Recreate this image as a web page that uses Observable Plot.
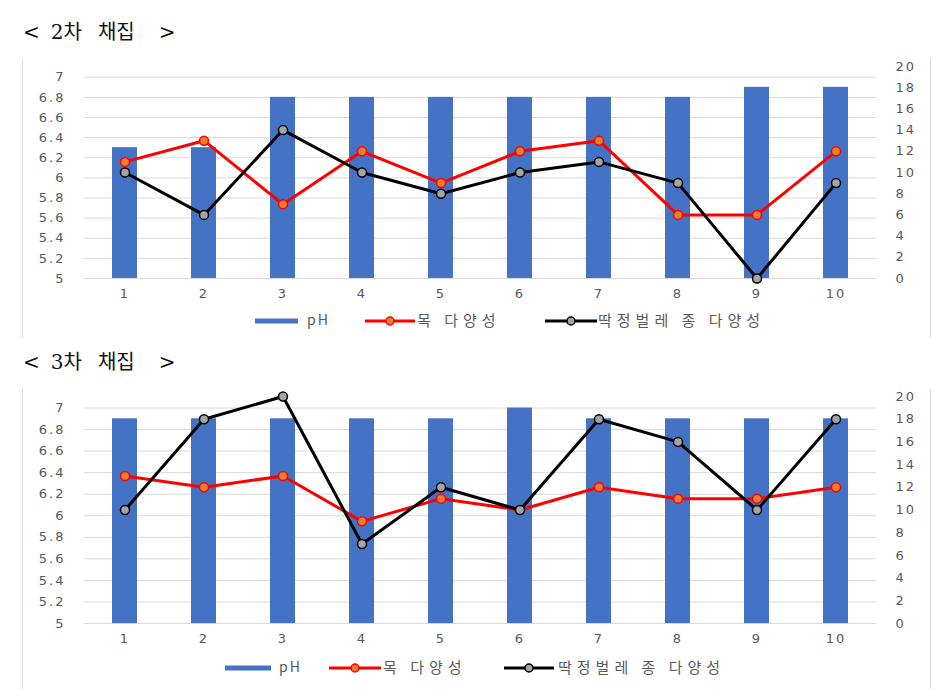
<!DOCTYPE html>
<html><head><meta charset="utf-8">
<script src="https://cdn.jsdelivr.net/npm/d3@7"></script>
<script src="https://cdn.jsdelivr.net/npm/@observablehq/plot@0.6"></script>
<style>
html,body{margin:0;padding:0;background:#fff}
body{width:946px;height:689px;overflow:hidden;position:relative;font-family:"DejaVu Sans","Noto Sans CJK KR",sans-serif}
.abs{position:absolute}
.title{font-family:"DejaVu Serif","Noto Sans CJK KR",serif;font-size:20px;color:#111;line-height:1;white-space:nowrap}
.frame{position:absolute;width:1px;background:#dcdcdc}
.leg{position:absolute;font-family:"Noto Sans CJK KR","DejaVu Sans",sans-serif;font-size:15px;letter-spacing:5px;color:#595959;line-height:1;white-space:nowrap}
</style></head><body>
<script>
// ---- data ----
const sites = [1, 2, 3, 4, 5, 6, 7, 8, 9, 10];
const ph2 = [6.3, 6.3, 6.8, 6.8, 6.8, 6.8, 6.8, 6.8, 6.9, 6.9];
const order2 = [11, 13, 7, 12, 9, 12, 13, 6, 6, 12];
const beetle2 = [10, 6, 14, 10, 8, 10, 11, 9, 0, 9];
const ph3 = [6.9, 6.9, 6.9, 6.9, 6.9, 7.0, 6.9, 6.9, 6.9, 6.9];
const order3 = [13, 12, 13, 9, 11, 10, 12, 11, 11, 12];
const beetle3 = [10, 18, 20, 7, 12, 10, 18, 16, 10, 18];
const phTicks = [5, 5.2, 5.4, 5.6, 5.8, 6, 6.2, 6.4, 6.6, 6.8, 7];
const divTicks = [0, 2, 4, 6, 8, 10, 12, 14, 16, 18, 20];
const seriesNames = ["pH", "목 다양성", "딱정벌레 종 다양성"];
const titles = ["2차 채집", "3차 채집"];

// secondary axis (0-20) mapped onto the pH axis
const K = 0.10535;
const toLeft = v => 5 + v * K;

const colors = {bar: "#4472C4", red: "#FF0000", redFill: "#ED7D31", black: "#000000", grayFill: "#A5A5A5"};

function panel(cfg) {
  const rows = sites.map((s, i) => ({site: s, ph: cfg.ph[i], order: cfg.order[i], beetle: cfg.beetle[i]}));
  const chart = Plot.plot({
    width: 946,
    height: 10 + cfg.plotH + 30,
    marginTop: 10, marginBottom: 30, marginLeft: 84, marginRight: 70,
    style: {fontFamily: "DejaVu Sans", fontSize: "13px", letterSpacing: "2px", color: "#595959", background: "transparent", overflow: "visible"},
    x: {type: "band", domain: sites, paddingInner: 0.684, paddingOuter: 0.345, axis: null},
    y: {domain: [5, toLeft(20)], axis: null},
    marks: [
      Plot.gridY(phTicks, {stroke: "#d9d9d9", strokeOpacity: 1, strokeWidth: 1}),
      Plot.barY(rows, {x: "site", y1: 5, y2: "ph", fill: colors.bar}),
      Plot.line(rows, {x: "site", y: d => toLeft(d.order), stroke: colors.red, strokeWidth: 3}),
      Plot.dot(rows, {x: "site", y: d => toLeft(d.order), r: 4.5, fill: colors.redFill, stroke: colors.red, strokeWidth: 1.5}),
      Plot.line(rows, {x: "site", y: d => toLeft(d.beetle), stroke: colors.black, strokeWidth: 3}),
      Plot.dot(rows, {x: "site", y: d => toLeft(d.beetle), r: 4.5, fill: colors.grayFill, stroke: colors.black, strokeWidth: 1.5}),
      Plot.axisY(phTicks, {anchor: "left", label: null, tickSize: 0, tickPadding: 19, tickFormat: d => String(+d.toFixed(1))}),
      Plot.axisY(divTicks.map(toLeft), {anchor: "right", label: null, tickSize: 0, tickPadding: 19, tickFormat: d => String(Math.round((d - 5) / K))}),
      Plot.axisX(sites, {label: null, tickSize: 0, tickPadding: 10})
    ]
  });
  chart.style.position = "absolute";
  chart.style.left = "0px";
  chart.style.top = cfg.top + "px";
  document.body.appendChild(chart);

  // title
  const t = document.createElement("div");
  t.className = "title abs";
  t.style.left = "23px";
  t.style.top = (cfg.titleY - 10) + "px";
  const [a, b] = cfg.title.split(" ");
  t.innerHTML = `<span>&lt;</span><span style="margin-left:11px">${a}</span><span style="margin-left:16px">${b}</span><span style="margin-left:24px">&gt;</span>`;
  document.body.appendChild(t);

  // frame lines
  for (const x of [22, 930]) {
    const f = document.createElement("div");
    f.className = "frame";
    f.style.left = x + "px";
    f.style.top = cfg.frameTop + "px";
    f.style.height = cfg.frameH + "px";
    document.body.appendChild(f);
  }

  // legend
  const L = cfg.leg, y = cfg.legY;
  const ns = "http://www.w3.org/2000/svg";
  const svg = document.createElementNS(ns, "svg");
  svg.setAttribute("width", 946); svg.setAttribute("height", 20);
  svg.style.position = "absolute"; svg.style.left = "0px"; svg.style.top = (y - 10) + "px";
  svg.innerHTML = `
    <rect x="${L.bar[0]}" y="7.5" width="${L.bar[1] - L.bar[0]}" height="5" fill="${colors.bar}"/>
    <line x1="${L.red[0]}" x2="${L.red[1]}" y1="10" y2="10" stroke="${colors.red}" stroke-width="3"/>
    <circle cx="${(L.red[0] + L.red[1]) / 2}" cy="10" r="4" fill="${colors.redFill}" stroke="${colors.red}" stroke-width="1.5"/>
    <line x1="${L.blk[0]}" x2="${L.blk[1]}" y1="10" y2="10" stroke="${colors.black}" stroke-width="3"/>
    <circle cx="${(L.blk[0] + L.blk[1]) / 2}" cy="10" r="4" fill="${colors.grayFill}" stroke="${colors.black}" stroke-width="1.5"/>`;
  document.body.appendChild(svg);
  const texts = [L.t0, L.t1, L.t2];
  seriesNames.forEach((n, i) => {
    const d = document.createElement("div");
    d.className = "leg";
    d.style.left = texts[i] + "px";
    d.style.top = (y - 9) + "px";
    if (i === 0) { d.style.fontSize = "14px"; d.style.letterSpacing = "2px"; }
    d.textContent = n;
    document.body.appendChild(d);
  });
}

panel({top: 56, plotH: 212, ph: ph2, order: order2, beetle: beetle2, title: titles[0], titleY: 32,
  frameTop: 58, frameH: 280, legY: 321,
  leg: {bar: [255, 298], t0: 307, red: [365, 415], t1: 417, blk: [545, 597], t2: 598}});
panel({top: 386, plotH: 227, ph: ph3, order: order3, beetle: beetle3, title: titles[1], titleY: 362,
  frameTop: 389, frameH: 300, legY: 668,
  leg: {bar: [225, 271], t0: 279, red: [329, 381], t1: 383, blk: [504, 554], t2: 558}});
</script>
</body></html>
